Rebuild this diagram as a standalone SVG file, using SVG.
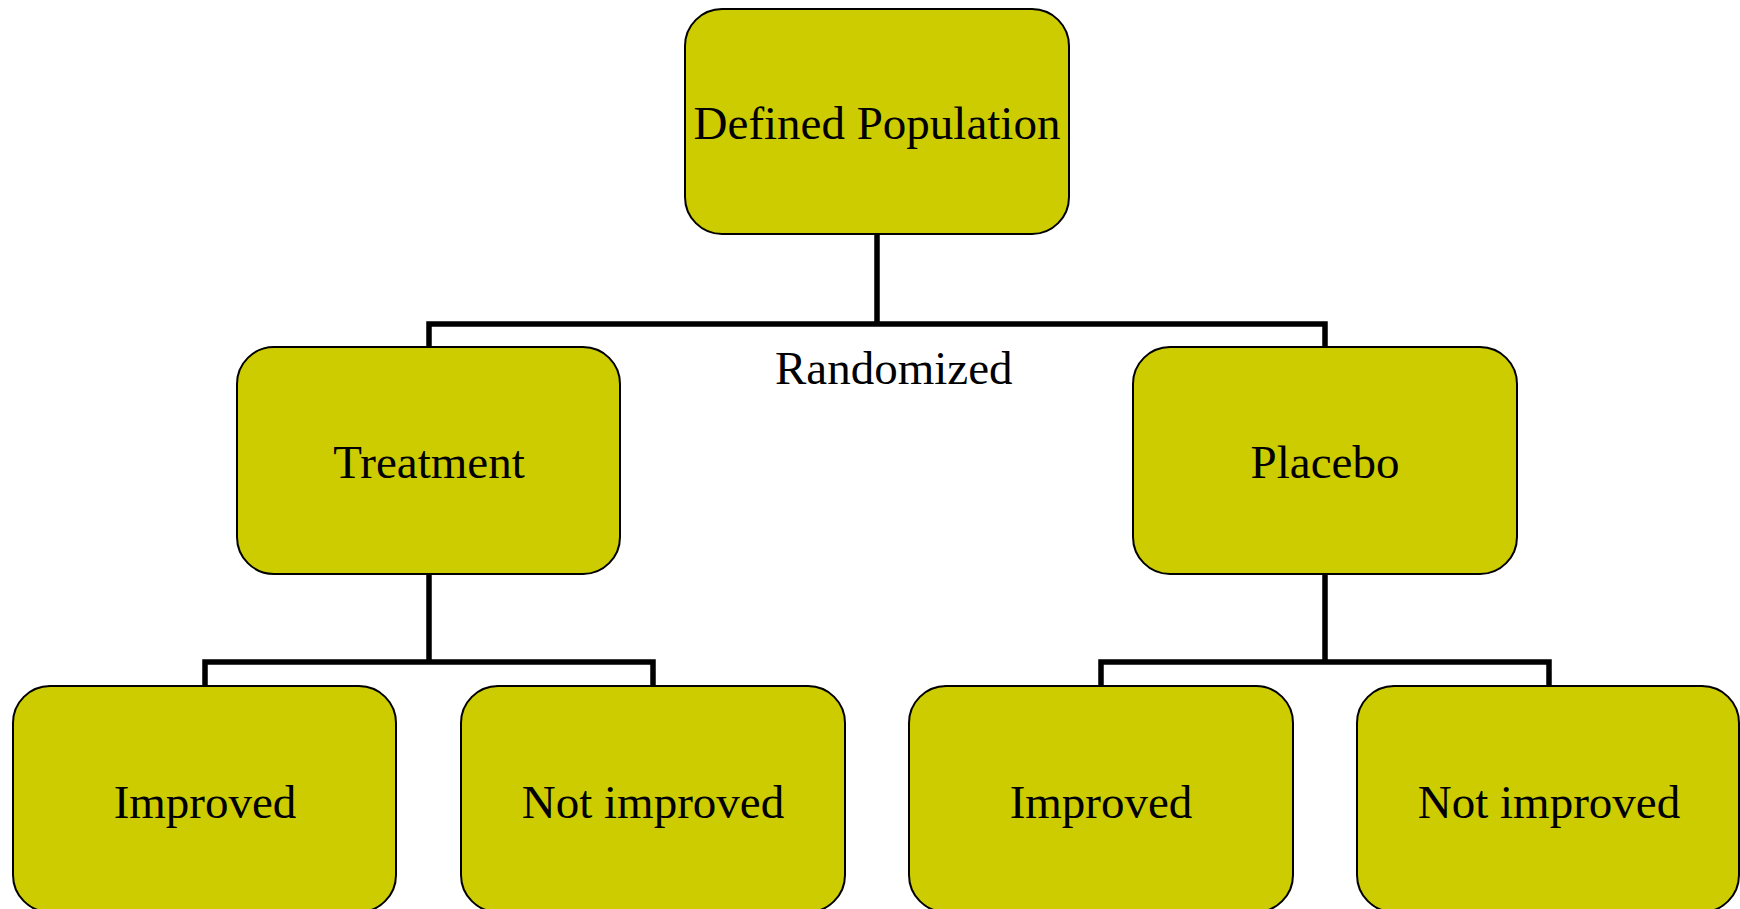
<svg xmlns="http://www.w3.org/2000/svg" width="1740" height="909" viewBox="0 0 1740 909">
<style>
.box{fill:#CCCC00;stroke:#000;stroke-width:2}
.lbl{font-family:"Liberation Serif","Times New Roman",serif;font-size:47px;fill:#000;text-anchor:middle}
.conn{fill:none;stroke:#000;stroke-width:5.5;stroke-linejoin:miter}
</style>
<rect width="1740" height="909" fill="#fff"/>
<g id="connectors">
<path class="conn" d="M877,234 V324 M429,347 V324 H1325 V347"/>
<path class="conn" d="M429,574 V662 M205,686 V662 H653 V686"/>
<path class="conn" d="M1325,574 V662 M1101,686 V662 H1549 V686"/>
</g>
<g id="defined-population">
<rect class="box" x="685" y="9" width="384" height="225" rx="37"/>
<text class="lbl" x="877" y="139">Defined Population</text>
</g>
<g id="randomized-label">
<text class="lbl" x="775" y="384" style="text-anchor:start">Randomized</text>
</g>
<g id="treatment">
<rect class="box" x="237" y="347" width="383" height="227" rx="37"/>
<text class="lbl" x="429" y="478">Treatment</text>
</g>
<g id="placebo">
<rect class="box" x="1133" y="347" width="384" height="227" rx="37"/>
<text class="lbl" x="1325" y="478">Placebo</text>
</g>
<g id="treatment-improved">
<rect class="box" x="13" y="686" width="383" height="226" rx="37"/>
<text class="lbl" x="205" y="818">Improved</text>
</g>
<g id="treatment-not-improved">
<rect class="box" x="461" y="686" width="384" height="226" rx="37"/>
<text class="lbl" x="653" y="818">Not improved</text>
</g>
<g id="placebo-improved">
<rect class="box" x="909" y="686" width="384" height="226" rx="37"/>
<text class="lbl" x="1101" y="818">Improved</text>
</g>
<g id="placebo-not-improved">
<rect class="box" x="1357" y="686" width="382" height="226" rx="37"/>
<text class="lbl" x="1549" y="818">Not improved</text>
</g>
</svg>
